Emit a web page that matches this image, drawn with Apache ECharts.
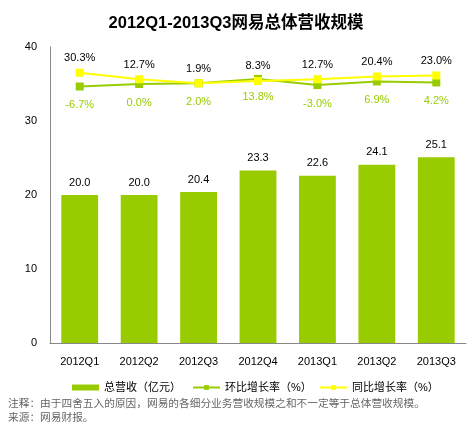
<!DOCTYPE html>
<html><head><meta charset="utf-8">
<script src="https://cdn.jsdelivr.net/npm/echarts@6/dist/echarts.min.js"></script>
<style>html,body{margin:0;padding:0;background:#fff}#c{width:472px;height:430px}</style>
</head><body><div id="c"></div>
<script>
const categories = ['2012Q1','2012Q2','2012Q3','2012Q4','2013Q1','2013Q2','2013Q3'];
const revenue = [20.0, 20.0, 20.4, 23.3, 22.6, 24.1, 25.1];
const qoq = [-6.7, 0.0, 2.0, 13.8, -3.0, 6.9, 4.2];
const yoy = [30.3, 12.7, 1.9, 8.3, 12.7, 20.4, 23.0];
const yTicks = [0, 10, 20, 30, 40];
const seriesNames = ['总营收（亿元）', '环比增长率（%）', '同比增长率（%）'];

const font = "'Liberation Sans','Noto Sans CJK SC',sans-serif";
const legendLefts = [67, 187, 314];
const chart = echarts.init(document.getElementById('c'));
chart.setOption({
  animation: false,
  textStyle: {fontFamily: font},
  title: {
    text: '2012Q1-2013Q3网易总体营收规模', left: 'center', top: 10,
    textStyle: {fontSize: 16.5, fontWeight: 'bold', color: '#000', fontFamily: font}
  },
  legend: seriesNames.map((n, i) => ({
    top: 377, left: legendLefts[i], itemWidth: 27, itemHeight: 6,
    textStyle: {fontSize: 11, color: '#000', fontFamily: font},
    data: [i === 0 ? {name: n, icon: 'rect'} : {name: n}]
  })),
  graphic: [
    {type: 'text', left: 8, top: 399, style: {text: '注释：由于四舍五入的原因，网易的各细分业务营收规模之和不一定等于总体营收规模。', fill: '#666', fontSize: 10.7, fontFamily: font}},
    {type: 'text', left: 8, top: 413, style: {text: '来源：网易财报。', fill: '#666', fontSize: 10.7, fontFamily: font}}
  ],
  grid: {left: 50, right: 6, top: 47, bottom: 87},
  xAxis: {
    type: 'category', data: categories,
    axisLine: {lineStyle: {color: '#888'}}, axisTick: {show: false},
    axisLabel: {color: '#000', fontSize: 11, margin: 13}
  },
  yAxis: [
    {type: 'value', min: yTicks[0], max: yTicks[yTicks.length-1], interval: 10,
     axisLine: {show: true, lineStyle: {color: '#888'}}, axisTick: {show: false},
     splitLine: {show: false}, axisLabel: {color: '#000', fontSize: 11, margin: 13}},
    {type: 'value', min: -700, max: 100, show: false, splitLine: {show: false}}
  ],
  series: [
    {name: seriesNames[0], type: 'bar', data: revenue, barWidth: '62%',
     itemStyle: {color: '#99cc00'},
     label: {show: true, position: 'top', distance: 7, color: '#000', fontSize: 11, formatter: p => p.value.toFixed(1)}},
    {name: seriesNames[1], type: 'line', yAxisIndex: 1, data: qoq,
     symbol: 'rect', symbolSize: 8, lineStyle: {color: '#99cc00', width: 2}, itemStyle: {color: '#99cc00'},
     label: {show: true, position: 'bottom', distance: 9, color: '#99cc00', fontSize: 11, formatter: p => p.value.toFixed(1) + '%'}},
    {name: seriesNames[2], type: 'line', yAxisIndex: 1, data: yoy,
     symbol: 'rect', symbolSize: 8, lineStyle: {color: '#ffff00', width: 2}, itemStyle: {color: '#ffff00'},
     label: {show: true, position: 'top', distance: 5, color: '#000', fontSize: 11, formatter: p => p.value.toFixed(1) + '%'}}
  ]
});
</script></body></html>
